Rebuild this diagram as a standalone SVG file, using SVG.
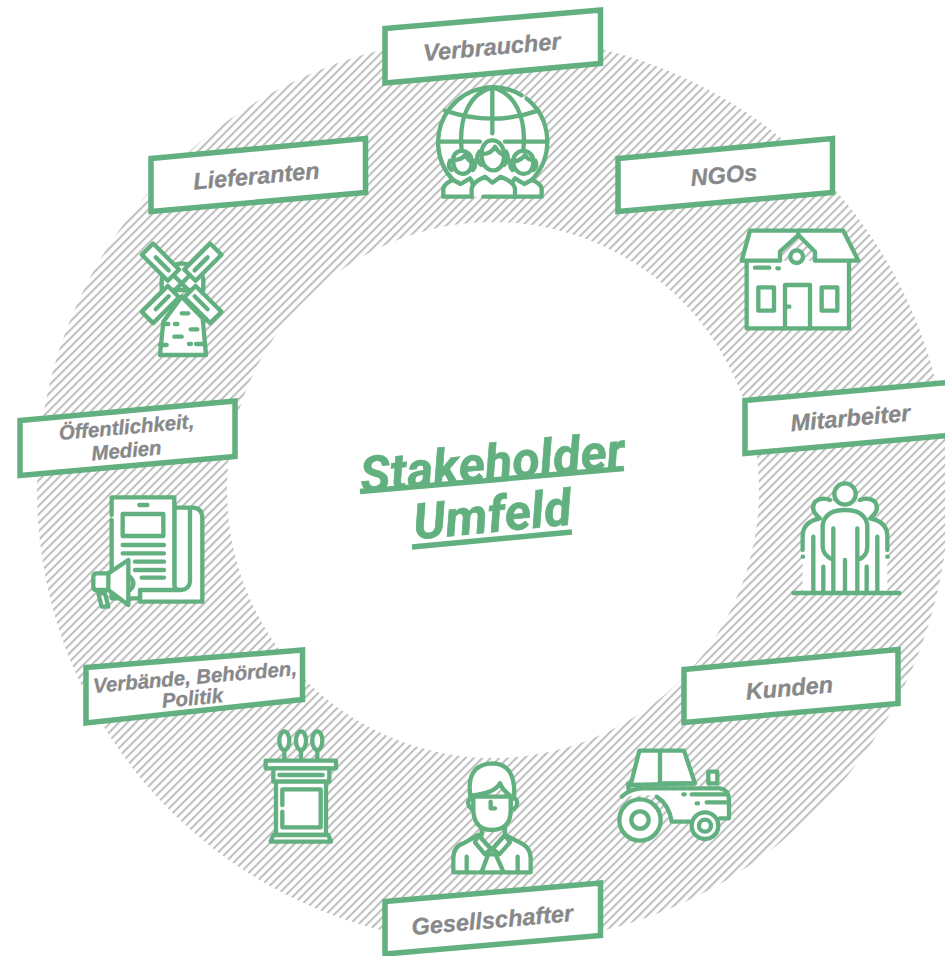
<svg xmlns="http://www.w3.org/2000/svg" width="945" height="956" viewBox="0 0 945 956">
<style>
.box{fill:#fff;stroke:#62b07f;stroke-width:5.5}
.lbl{font-family:"Liberation Sans",Arial,sans-serif;font-weight:700;font-style:italic;fill:#87888a;stroke:#87888a;stroke-width:.3;text-anchor:middle}
.l1{font-size:23.5px}
.l2{font-size:20.4px}
.i{fill:#fff;stroke:#62b07f;stroke-width:13;stroke-linecap:round;stroke-linejoin:round}
.i .n{fill:none}
.i .f{stroke:none}
.ttl{font-family:Roboto,"Liberation Sans",sans-serif;font-weight:700;font-style:italic;fill:#62b07f;stroke:#62b07f;stroke-width:.7;font-size:50px;letter-spacing:.3px;text-anchor:middle}
</style>
<defs>
<pattern id="hatch" width="6" height="6" patternUnits="userSpaceOnUse" patternTransform="rotate(-45)">
<rect width="6" height="6" fill="#fff"/>
<rect width="6" height="2.1" fill="#c0c0c0"/>
</pattern>
</defs>
<rect width="945" height="956" fill="#fff"/>
<g id="ring"><path fill="url(#hatch)" fill-rule="evenodd" d="M493 36a456 454 0 1 0 .01 0zM493 222a266 268 0 1 1-.01 0z"/></g>

<g id="center">
<text class="ttl" transform="translate(494 480) rotate(-5.5)">Stakeholder</text>
<text class="ttl" transform="translate(494 532) rotate(-5.5)">Umfeld</text>
<path d="M360 491.500L624 468.500M412 547L572 532" stroke="#62b07f" stroke-width="5.500" fill="none"/>
</g>

<g id="verbraucher">
<polygon class="box" points="385,28.500 600.500,10 600.500,63.500 385,83"/>
<text class="lbl l1" transform="translate(492.500 55) rotate(-5)">Verbraucher</text>
<g class="i" transform="translate(370 0) scale(.3333)">
<circle class="f" cx="367" cy="425" r="165"/>
<path class="n" d="M250 541A165 165 0 0 1 455 286M470 296A165 165 0 0 1 484 541"/>
<path class="n" d="M225 332Q367 380 505 332M367 262V400M205 425H330M405 425H530M367 262C300 280 265 350 275 450M367 262C435 280 470 350 460 450"/>
<path d="M220 590V565Q225 548 250 540L272 552L300 535Q315 550 305 590Z"/>
<path d="M515 590V565Q510 548 485 540L463 552L435 535Q420 550 430 590Z"/>
<path d="M305 590V565Q310 545 345 530L367 548L392 530Q430 545 435 565V590H340" />
<path d="M250 490C240 440 310 440 305 490C305 530 255 535 250 490Z"/>
<path d="M430 490C425 440 495 440 490 490C485 535 435 530 430 490Z"/>
<path class="n" d="M240 482Q232 500 245 510M312 482Q320 500 308 510M424 482Q416 500 428 510M496 482Q504 500 490 510"/>
<path class="n" d="M252 480Q275 480 285 465Q295 480 303 485M432 485Q455 480 465 465Q475 480 488 480"/>
<path d="M335 470C328 405 405 405 402 470C400 525 340 525 335 470Z"/>
<path class="n" d="M328 455Q312 478 335 495M408 455Q422 478 402 495M337 462Q365 462 375 440Q385 458 400 465"/>
</g>
</g>

<g id="lieferanten">
<polygon class="box" points="151,158.500 365.500,138.500 365.500,192.500 151,211.500"/>
<text class="lbl l1" transform="translate(257 184) rotate(-5)">Lieferanten</text>
<g class="i" transform="translate(120 230) scale(.3333)">
<path d="M125 180V150Q130 105 185 100Q245 105 250 150V180Z"/>
<path d="M130 275L120 375H258L248 265L185 200Z"/>
<path class="n" d="M185 250H205M135 282H145M165 282H172M212 298H232M163 320H185M120 345H140M207 342H213M228 342H250"/>
<g transform="translate(185 160) rotate(-45)">
<rect x="-24" y="-145" width="48" height="110"/><path class="n" d="M0 -110V-55"/>
</g>
<g transform="translate(185 160) rotate(45)">
<rect x="-24" y="-145" width="48" height="110"/><path class="n" d="M0 -110V-55"/>
</g>
<g transform="translate(185 160) rotate(135)">
<rect x="-24" y="-145" width="48" height="110"/><path class="n" d="M0 -110V-55"/>
</g>
<g transform="translate(185 160) rotate(225)">
<rect x="-24" y="-145" width="48" height="110"/><path class="n" d="M0 -110V-55"/>
</g>
<path class="n" d="M165 140L205 180M205 140L165 180"/>
</g>
</g>

<g id="ngos">
<polygon class="box" points="618,158.500 832.500,138.500 832.500,192.500 618,211.500"/>
<text class="lbl l1" transform="translate(724.500 183) rotate(-5)">NGOs</text>
<g class="i" transform="translate(730 220) scale(.3333)">
<path d="M50 122V325H357V122"/>
<path d="M60 32H340L385 122H255V95L205 45L150 95V122H35Z"/>
<circle cx="200" cy="110" r="19"/>
<path class="n" d="M205 45V32"/>
<rect x="85" y="202" width="47" height="70"/>
<rect x="275" y="202" width="47" height="70"/>
<path class="n" d="M165 325V195H240V325M172 260H178M75 143H118M142 145H147"/>
</g>
</g>

<g id="mitarbeiter">
<polygon class="box" points="745,400.500 948,382.500 948,435.500 745,453.500"/>
<text class="lbl l1" transform="translate(851 426) rotate(-5)">Mitarbeiter</text>
<g class="i" transform="translate(780 475) scale(.3333)">
<path class="f" d="M68 354V180Q70 140 110 128Q90 100 110 78Q130 62 160 78Q195 105 235 78Q265 62 285 80Q300 105 280 128Q320 140 322 180V354Z"/>
<path class="n" d="M40 354H358M160 255Q128 240 128 215V150Q135 105 195 105Q255 105 262 150V215Q262 245 232 255M160 160V350M232 160V350M195 255V350M100 185V350M292 185V350M130 275V350M260 275V350"/>
<path class="n" d="M150 75Q125 65 105 80Q90 105 115 125M240 75Q265 65 285 80Q300 105 275 125M68 225V180Q70 140 120 130M322 225V180Q320 140 270 130M68 245H69M322 245H323"/>
<circle cx="195" cy="57" r="32"/>
</g>
</g>

<g id="oeffentlichkeit">
<polygon class="box" points="20,420.500 235,401 235,456.500 20,475.500"/>
<text class="lbl l2" transform="translate(127 434) rotate(-5)">Öffentlichkeit,</text>
<text class="lbl l2" transform="translate(127 457.500) rotate(-5)">Medien</text>
<g class="i" transform="translate(80 485) scale(.3333)">
<path d="M283 68H340Q367 70 367 100V350H180V300H283Z"/>
<path d="M95 90V37H283V300Q283 315 300 315H180V340H95V105"/>
<path class="n" d="M330 75V290Q328 315 300 315M178 60H202"/>
<rect x="128" y="87" width="122" height="66"/>
<path class="n" d="M128 180H252M128 205H252M165 230H252M165 255H252M185 278H252"/>
<path d="M150 275Q170 295 150 315"/>
<path d="M55 325L65 365H85L75 325Z"/>
<path d="M145 225V360L85 315H50Q40 315 40 305V275Q40 265 50 265H85Z"/>
<path class="n" d="M85 265V315"/>
</g>
</g>

<g id="verbaende">
<polygon class="box" points="86,667.500 302.500,650 302.500,699.500 86,723"/>
<text class="lbl l2" transform="translate(195.500 684) rotate(-5)">Verbände, Behörden,</text>
<text class="lbl l2" transform="translate(193 705) rotate(-5)">Politik</text>
<g class="i" transform="translate(250 720) scale(.3333)">
<path class="n" d="M103 90V120M153 90V120M202 90V120"/>
<ellipse cx="103" cy="62" rx="15" ry="28"/>
<ellipse cx="153" cy="62" rx="15" ry="28"/>
<ellipse cx="202" cy="62" rx="15" ry="28"/>
<rect x="47" y="122" width="211" height="23"/>
<path d="M70 145V185H238V145Z"/>
<path d="M78 185V345H228V185Z"/>
<path class="n" d="M88 165H218M97 255V208H212V322H97V275"/>
<path d="M62 365L70 345H235L243 365Z"/>
</g>
</g>

<g id="kunden">
<polygon class="box" points="684,669.500 898,649.500 898,703.500 684,722.500"/>
<text class="lbl l1" transform="translate(790 696) rotate(-5)">Kunden</text>
<g class="i" transform="translate(610 740) scale(.3333)">
<path d="M295 130V95H322V130Z"/>
<path d="M62 135L88 32H222L255 130Z"/>
<path class="f" d="M35 170Q60 145 100 145H330Q357 150 357 180V235H330L240 245H185L160 190L120 165Z"/>
<path class="n" d="M35 170Q60 145 100 145H330Q357 150 357 180V235H330M240 245H185Q178 195 140 170"/>
<path class="n" d="M150 35V130H255M55 130V145M245 163H345M220 163H224M290 187H355M260 190H264"/>
<circle cx="90" cy="240" r="62"/><circle cx="90" cy="240" r="26"/>
<circle cx="285" cy="257" r="40"/><circle cx="285" cy="257" r="18"/>
</g>
</g>

<g id="gesellschafter">
<polygon class="box" points="385,901.500 600.500,883 600.500,935.500 385,954"/>
<text class="lbl l1" transform="translate(493 928) rotate(-5)">Gesellschafter</text>
<g class="i" transform="translate(440 755) scale(.3333)">
<path d="M40 352V310Q40 275 70 265L115 240L155 285L195 240L245 265Q272 280 272 310V352H115M105 352H40"/>
<path class="n" d="M125 215V240M195 215V240"/>
<path d="M92 130Q75 145 95 162L105 160V130ZM225 130Q240 145 222 162L212 160V130Z"/>
<path d="M100 125V170Q105 225 155 225Q210 225 212 170V125Z"/>
<path d="M92 130Q75 30 155 25Q230 25 222 130Q190 110 180 85Q165 115 92 122Z"/>
<path class="n" d="M152 140V160H165"/>
<path d="M115 240L105 262L135 298L155 280L178 298L210 262L195 240L155 285Z"/>
<path class="n" d="M145 298L125 350M167 298L190 350M145 298H167M80 305V350M233 305V350"/>
</g>
</g>
</svg>
